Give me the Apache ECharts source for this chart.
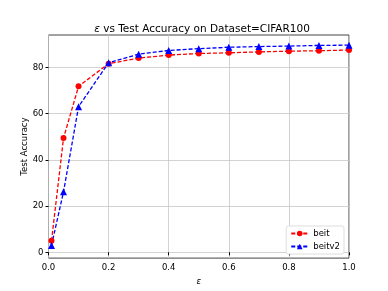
<!DOCTYPE html>
<html>
<head>
<meta charset="utf-8">
<script src="https://cdn.jsdelivr.net/npm/echarts@6/dist/echarts.min.js"></script>
<style>html,body{margin:0;padding:0;background:#fff;}#c{width:388px;height:291px;}</style>
</head>
<body>
<div id="c"></div>
<script>
var epsilons = [0.01, 0.05, 0.1, 0.2, 0.3, 0.4, 0.5, 0.6, 0.7, 0.8, 0.9, 1.0];
var beit = [5.0, 49.4, 71.8, 81.6, 84.0, 85.3, 86.0, 86.3, 86.7, 87.0, 87.2, 87.5];
var beitv2 = [3.0, 26.2, 63.0, 82.0, 85.7, 87.3, 88.1, 88.7, 89.0, 89.2, 89.5, 89.6];
var yTicks = [0, 20, 40, 60, 80];
var seriesNames = ['beit', 'beitv2'];

function pairs(ys) { return epsilons.map(function (x, i) { return [x, ys[i]]; }); }

var font = 'DejaVu Sans';
var chart = echarts.init(document.getElementById('c'), null, {renderer: 'canvas'});
chart.setOption({
  animation: false,
  title: {
    text: '{e|ε} vs Test Accuracy on Dataset=CIFAR100',
    left: 197, top: 19, textAlign: 'center',
    textStyle: {fontFamily: font, fontSize: 10.5, fontWeight: 'normal', color: '#000',
      rich: {e: {fontFamily: font, fontStyle: 'italic', fontSize: 10.5, color: '#000'}}}
  },
  grid: {left: 48.5, right: 39, top: 35, bottom: 29, show: true, borderColor: '#444', borderWidth: 1, containLabel: false},
  legend: {
    right: 44, bottom: 37, orient: 'vertical', itemGap: 4, itemWidth: 17, itemHeight: 7,
    padding: [3, 4, 3, 4], borderColor: '#ddd', borderWidth: 1, borderRadius: 2, backgroundColor: '#fff',
    textStyle: {fontFamily: font, fontSize: 8.5, color: '#000'},
    data: seriesNames
  },
  xAxis: {
    type: 'value', min: 0, max: 1, interval: 0.2,
    name: 'ε', nameLocation: 'middle', nameGap: 16,
    nameTextStyle: {fontFamily: font, fontStyle: 'italic', fontSize: 8.5, color: '#000'},
    axisLine: {show: false},
    axisTick: {show: true, length: 3, lineStyle: {color: '#000'}},
    axisLabel: {fontFamily: font, fontSize: 8.5, color: '#000', margin: 5, formatter: function (v) { return v.toFixed(1); }},
    splitLine: {show: true, lineStyle: {color: '#c8c8c8', width: 0.8}}
  },
  yAxis: {
    type: 'value', min: -2.5, max: 94,
    name: 'Test Accuracy', nameLocation: 'middle', nameGap: 19, nameRotate: 90, nameMoveOverlap: false,
    nameTextStyle: {fontFamily: font, fontSize: 8.5, color: '#000'},
    axisLine: {show: false},
    axisTick: {show: true, length: 3, customValues: yTicks, lineStyle: {color: '#000'}},
    axisLabel: {fontFamily: font, fontSize: 8.5, color: '#000', margin: 5, customValues: yTicks},
    splitLine: {show: true, customValues: yTicks, lineStyle: {color: '#c8c8c8', width: 0.8}}
  },
  series: [
    {name: seriesNames[0], type: 'line', data: pairs(beit), symbol: 'circle', symbolSize: 6,
      itemStyle: {color: '#ff0000'}, lineStyle: {color: '#ff0000', width: 1.3, type: [4, 2]}},
    {name: seriesNames[1], type: 'line', data: pairs(beitv2), symbol: 'triangle', symbolSize: 7,
      itemStyle: {color: '#0000ff'}, lineStyle: {color: '#0000ff', width: 1.3, type: [4, 2]}}
  ]
});
</script>
</body>
</html>
